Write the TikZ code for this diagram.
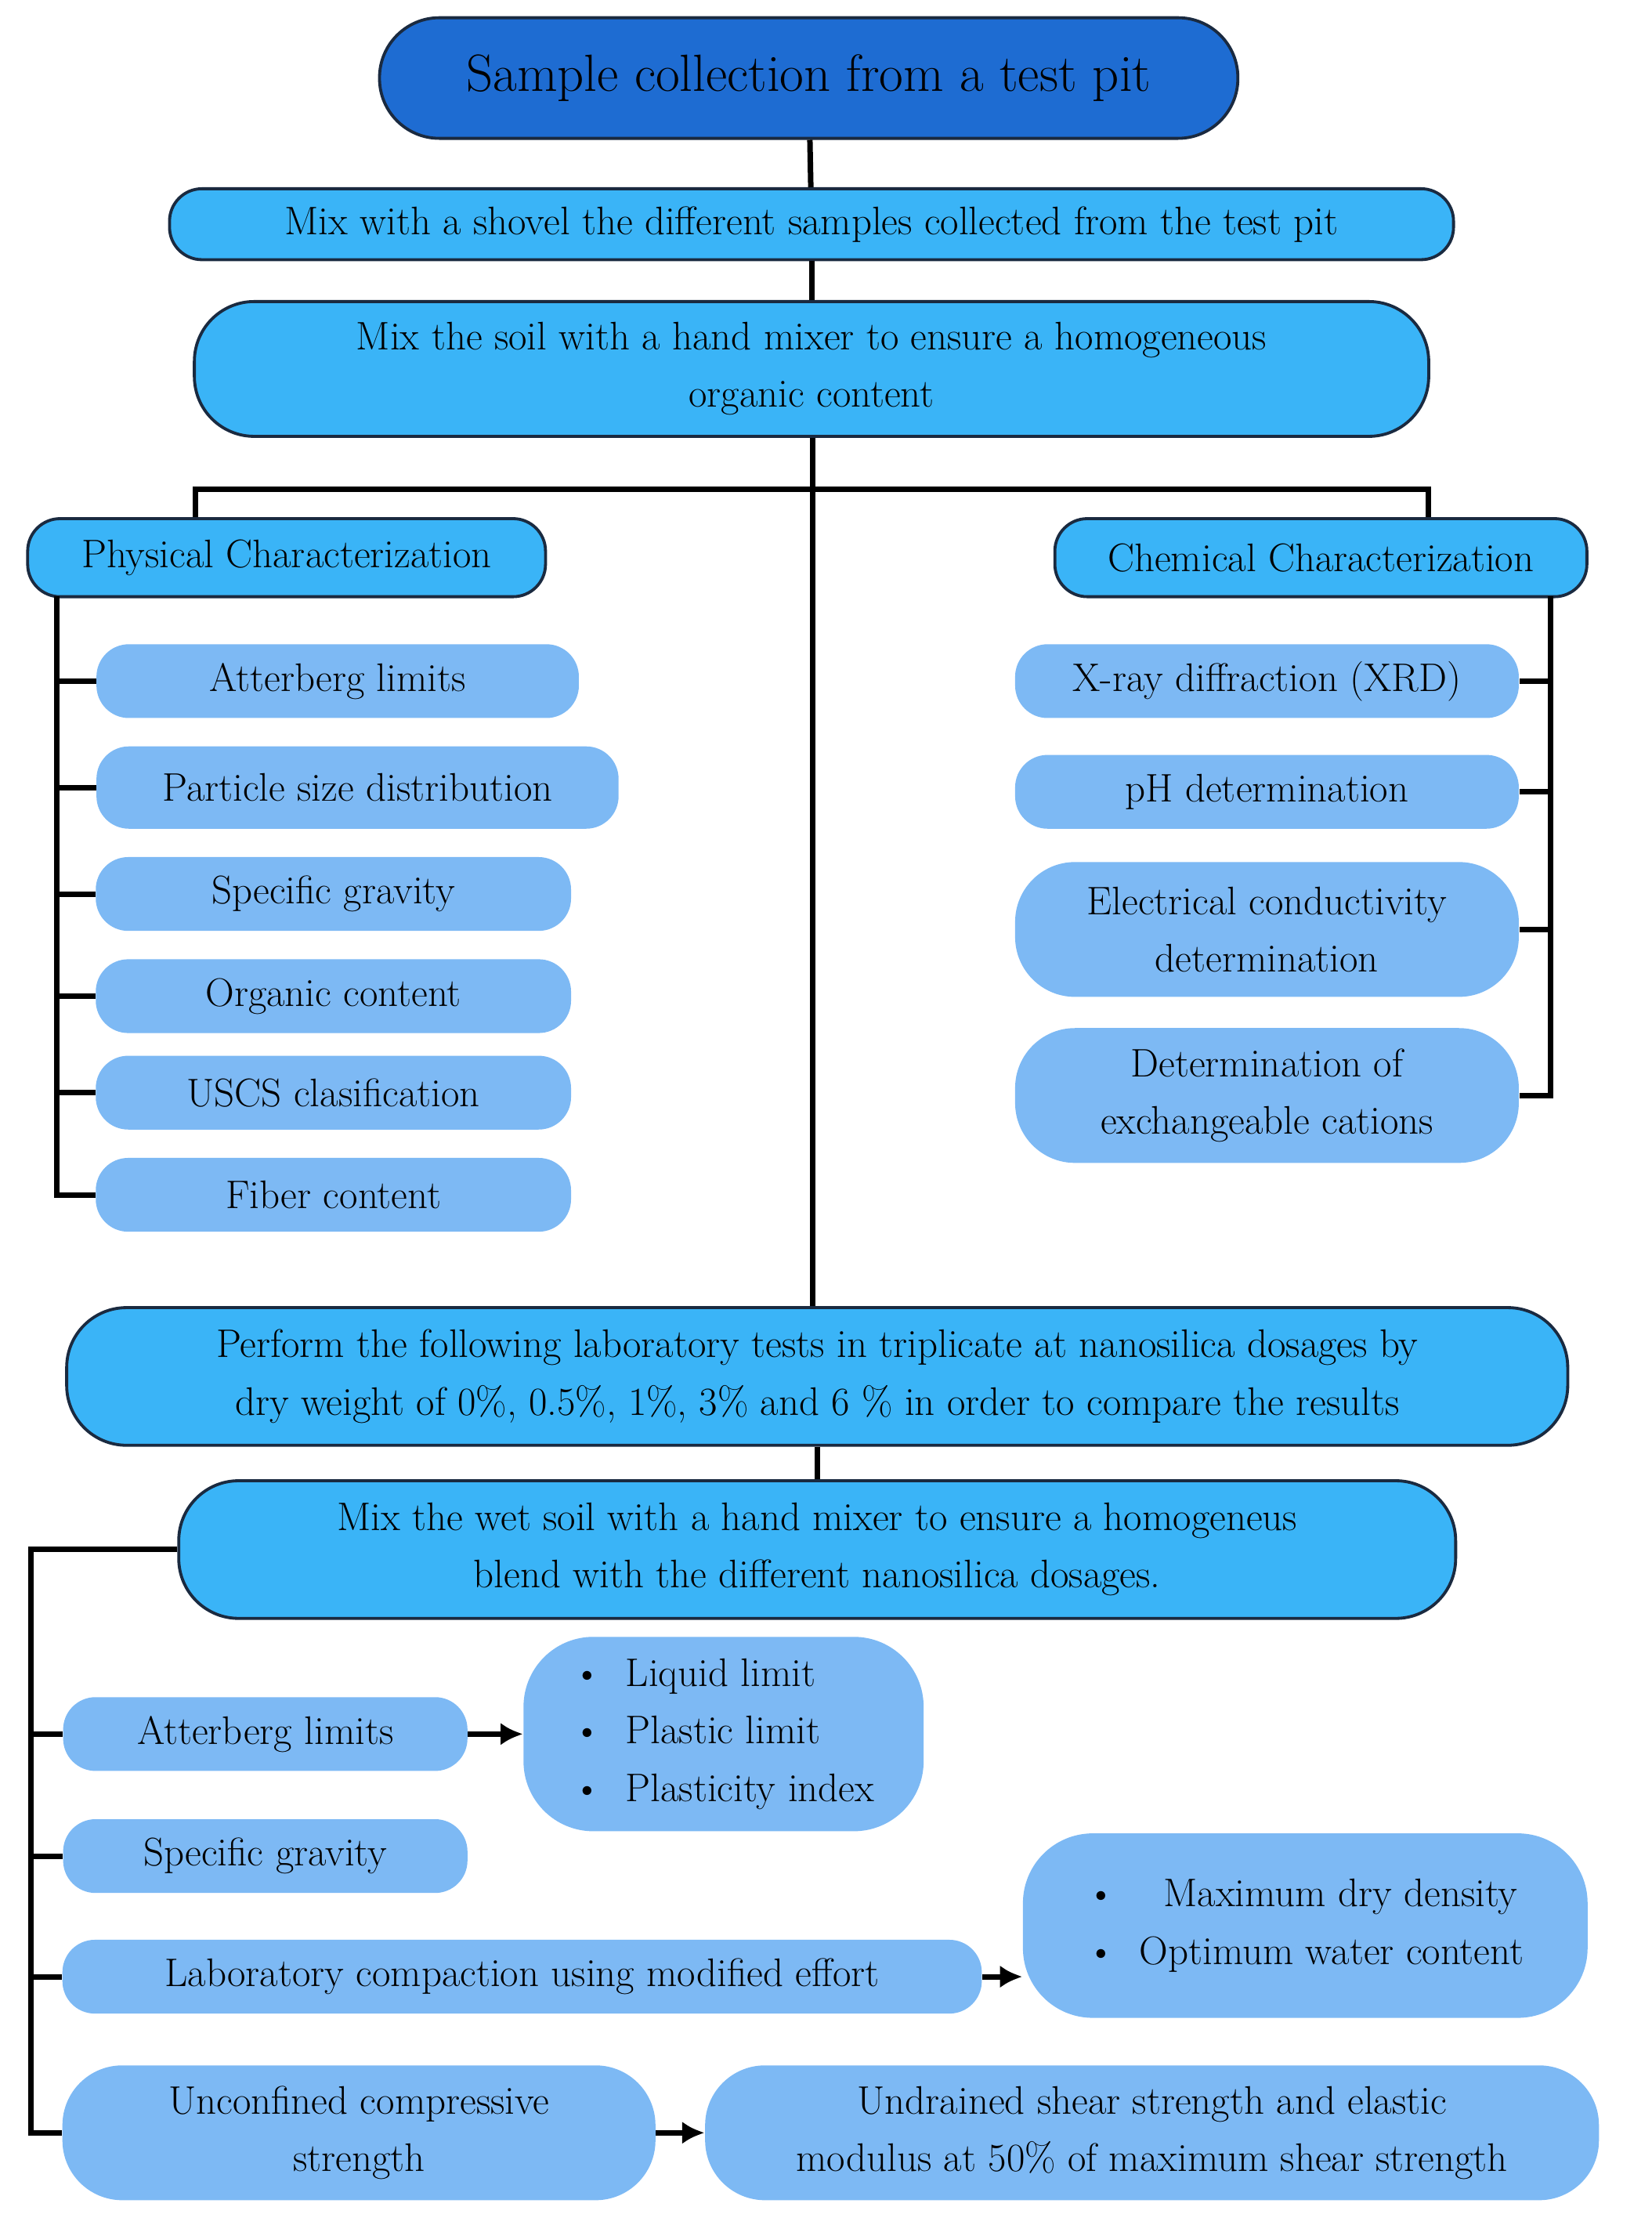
\documentclass[tikz,border=0pt]{standalone}
\usetikzlibrary{arrows.meta}
\definecolor{dk}{HTML}{1E6CD2}
\definecolor{md}{HTML}{3AB4F7}
\definecolor{lt}{HTML}{7DB9F4}
\definecolor{ed}{HTML}{1A2A40}
\begin{document}
\begin{tikzpicture}[x=0.02cm,y=-0.02cm,
 w/.style={minimum width=#1*0.02cm},
 h/.style={minimum height=#1*0.02cm},
 rc/.style={rounded corners=#1pt},
 base/.style={rounded corners=13pt,inner sep=0pt,align=center,font=\fontsize{16}{23}\selectfont},
 top/.style={base,fill=dk,draw=ed,line width=1.2pt,rounded corners=24pt,font=\fontsize{21}{25}\selectfont},
 mid/.style={base,fill=md,draw=ed,line width=1.2pt},
 lit/.style={base,fill=lt},
 ln/.style={line width=2.2pt,black},
 ar/.style={ln,-{Latex[length=9pt,width=9pt]}}]
\path[use as bounding box] (0,0) rectangle (1164,1568);
\node[top,w=605,h=85] (t) at (570,55) {Sample collection from a test pit};
\node[mid,w=905,h=50] (m1) at (572,158) {Mix with a shovel the different samples collected from the test pit};
\node[mid,w=870,h=95,rc=24] (m2) at (572,260) {Mix the soil with a hand mixer to ensure a homogeneous\\organic content};
\node[mid,w=365,h=55] (ph) at (202,393) {Physical Characterization};
\node[mid,w=375,h=55] (ch) at (931,393) {Chemical Characterization};
\node[lit,w=340,h=52] (p1) at (238,480) {Atterberg limits};
\node[lit,w=368,h=58] (p2) at (252,555) {Particle size distribution};
\node[lit,w=335,h=52] (p3) at (235,630) {Specific gravity};
\node[lit,w=335,h=52] (p4) at (235,702) {Organic content};
\node[lit,w=335,h=52] (p5) at (235,770) {USCS clasification};
\node[lit,w=335,h=52] (p6) at (235,842) {Fiber content};
\node[lit,w=355,h=52] (c1) at (893,480) {X-ray diffraction (XRD)};
\node[lit,w=355,h=52] (c2) at (893,558) {pH determination};
\node[lit,w=355,h=95,rc=24] (c3) at (893,655) {Electrical conductivity\\determination};
\node[lit,w=355,h=95,rc=24] (c4) at (893,772) {Determination of\\exchangeable cations};
\node[mid,w=1058,h=97,rc=24] (pf) at (576,970) {Perform the following laboratory tests in triplicate at nanosilica dosages by\\dry weight of 0\%, 0.5\%, 1\%, 3\% and 6 \% in order to compare the results};
\node[mid,w=900,h=97,rc=24] (m3) at (576,1092) {Mix the wet soil with a hand mixer to ensure a homogeneus\\blend with the different nanosilica dosages.};
\node[lit,w=285,h=52] (a2) at (187,1222) {Atterberg limits};
\node[lit,w=282,h=137,rc=28,align=left] (b1) at (510,1222) {\textbullet\ \ Liquid limit\\\textbullet\ \ Plastic limit\\\textbullet\ \ Plasticity index};
\node[lit,w=285,h=52] (s2) at (187,1308) {Specific gravity};
\node[lit,w=648,h=52] (lc) at (368,1393) {Laboratory compaction using modified effort};
\node[lit,w=398,h=130,rc=28,align=left] (b2) at (920,1357) {\textbullet\ \ \ \ Maximum dry density\\\textbullet\ \ Optimum water content};
\node[lit,w=418,h=95,rc=24] (u) at (253,1503) {Unconfined compressive\\strength};
\node[lit,w=630,h=95,rc=24] (b3) at (812,1503) {Undrained shear strength and elastic\\modulus at 50\% of maximum shear strength};
\coordinate (j) at (573,345);
\draw[ln] (t) -- (m1); \draw[ln] (m1) -- (m2);
\draw[ln] (m2.south -| j) -- (pf.north -| j);
\draw[ln] (ph.north -| 138,0) |- (j) -| (ch.north -| 1007,0);
\draw[ln] (40,420) -- (40,842) -- (p6.west);
\foreach \n in {p1,p2,p3,p4,p5} \draw[ln] (\n.west -| 40,0) -- (\n.west);
\draw[ln] (1093,420) -- (1093,772) -- (c4.east);
\foreach \n in {c1,c2,c3} \draw[ln] (\n.east -| 1093,0) -- (\n.east);
\draw[ln] (pf.south -| 576,0) -- (m3);
\draw[ln] (m3.west) -- (22,1092) -- (22,1503) -- (u.west);
\foreach \n in {a2,s2,lc} \draw[ln] (\n.west -| 22,0) -- (\n.west);
\draw[ar] (a2) -- (b1);
\draw[ar] (lc.east) -- (b2.west |- lc.east);
\draw[ar] (u) -- (b3);
\end{tikzpicture}
\end{document}
